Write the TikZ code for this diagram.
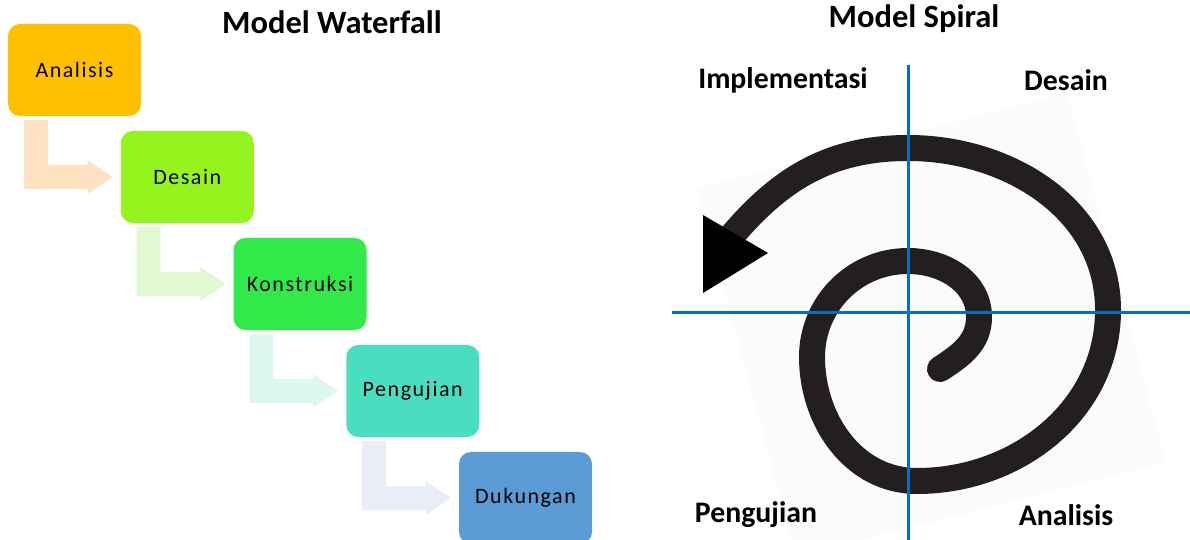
\documentclass[tikz,border=0pt]{standalone}
\usepackage{fontspec}
\setmainfont{Carlito}
\newfontfamily\stagefont[LetterSpace=7]{Carlito}
\usetikzlibrary{calc}

\definecolor{stageA}{RGB}{255,192,0}
\definecolor{stageB}{RGB}{149,243,30}
\definecolor{stageC}{RGB}{50,233,74}
\definecolor{stageD}{RGB}{74,222,192}
\definecolor{stageE}{RGB}{91,155,213}
\definecolor{flowA}{RGB}{255,226,194}
\definecolor{flowB}{RGB}{224,249,210}
\definecolor{flowC}{RGB}{221,248,236}
\definecolor{flowD}{RGB}{232,237,246}
\definecolor{axisblue}{RGB}{0,112,192}
\definecolor{coilink}{RGB}{35,31,32}
\definecolor{paper}{RGB}{251,251,251}

% bent arrow from below stage #1 to the west side of stage #2
\newcommand\flowstep[3]{%
  \coordinate (fs) at ($(#1.south west)+(16,-4)$);
  \coordinate (ft) at ($(#2.west)+(-8,0)$);
  \coordinate (fu) at ($(ft)+(0,-12)$);
  \fill[#3] (fs) -- ++(24,0) |- ($(ft)+(-25,12)$) -- ++(0,5) -- (ft)
    -- ++(-25,-17) -- ++(0,5) -- (fs |- fu) -- cycle;
}

\begin{document}
\begin{tikzpicture}[x=1pt,y=1pt,
  stage/.style={rounded corners=12pt, minimum width=133pt, minimum height=92pt,
    inner sep=0pt, font=\stagefont\fontsize{22}{25}\selectfont, text=black},
  heading/.style={font=\bfseries\fontsize{32.5}{38}\selectfont},
  quadlabel/.style={font=\bfseries\fontsize{29.8}{35}\selectfont},
  axis/.style={draw=axisblue, line width=3pt},
  coil/.style={draw=coilink, line width=26pt, line cap=round}]
\useasboundingbox (0,0) rectangle (1190,540);
\clip (0,0) rectangle (1190,540);

% ---------- waterfall ----------
\node[heading] (wtitle) at (332,518) {Model Waterfall};

\node[stage, fill=stageA] (an) at (74.5,470) {Analisis};
\node[stage, fill=stageB] (de) at (187.25,363) {Desain};
\node[stage, fill=stageC] (ko) at (300,256) {Konstruksi};
\node[stage, fill=stageD] (pe) at (412.75,149) {Pengujian};
\node[stage, fill=stageE] (du) at (525.5,42) {Dukungan};

\flowstep{an}{de}{flowA}
\flowstep{de}{ko}{flowB}
\flowstep{ko}{pe}{flowC}
\flowstep{pe}{du}{flowD}

% ---------- spiral ----------
\node[heading] (stitle) at (914,521) {Model Spiral};

\fill[paper] (697,352) -- (1067,447) -- (1166,78) -- (796,-17) -- cycle;

\draw[coil] (940,171) to[out=33,in=270] (979,223)
  to[out=90,in=0] (908,279)
  to[out=180,in=90] (812,183)
  to[out=270,in=180] (917,59)
  to[out=0,in=270] (1108,230)
  to[out=90,in=0] (908,392)
  to[out=180,in=50] (730,302);
\fill[black] (703,325) -- (768,287) -- (703,247) -- cycle;

\coordinate (vtop) at (908,475);
\coordinate (vbot) at (908,0);
\coordinate (hleft) at (672,227);
\coordinate (hright) at (1190,227);
\draw[axis] (vtop) -- (vbot);
\draw[axis] (hleft) -- (hright);

\node[quadlabel] (qimp) at (783,460) {Implementasi};
\node[quadlabel] (qdes) at (1066,460) {Desain};
\node[quadlabel] (qpen) at (756,25) {Pengujian};
\node[quadlabel] (qana) at (1066,25) {Analisis};
\end{tikzpicture}
\end{document}
